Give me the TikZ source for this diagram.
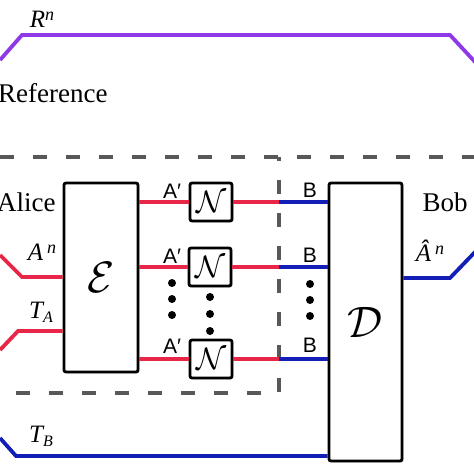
\documentclass[tikz,border=0pt]{standalone}
\usepackage{fix-cm}
\usepackage{fontspec}
\setmainfont{Liberation Serif}
\newfontfamily\sansf{Liberation Sans}
\usetikzlibrary{shadows}
\definecolor{wred}{RGB}{232,38,72}
\definecolor{wblue}{RGB}{18,30,182}
\definecolor{wpurple}{RGB}{142,56,232}
\definecolor{dgray}{RGB}{88,88,88}
\newcommand{\supn}{\raisebox{7pt}{\fontsize{18}{19}\selectfont n}}
\newcommand{\subl}[1]{\raisebox{-4pt}{\fontsize{16}{17}\selectfont #1}}
\begin{document}
\begin{tikzpicture}[x=1pt,y=-1pt,
  redw/.style={draw=wred,line width=3.8pt},
  bluew/.style={draw=wblue,line width=3.8pt},
  purw/.style={draw=wpurple,line width=3.8pt,line join=miter},
  dline/.style={draw=dgray,line width=3.2pt,dash pattern=on 14pt off 19pt},
  bigbox/.style={draw=black,line width=2.8pt,rounded corners=2pt,fill=white,
     drop shadow={shadow xshift=1.5pt,shadow yshift=-1.5pt,opacity=0.25},inner sep=0pt},
  chbox/.style={bigbox,minimum width=42pt,minimum height=38pt},
  lbl/.style={inner sep=0pt,font=\fontsize{27}{30}\selectfont},
  mlbl/.style={inner sep=0pt,font=\fontsize{25}{28}\selectfont\itshape},
  slbl/.style={inner sep=0pt,font=\sansf\fontsize{21}{23}\selectfont},
  dotc/.style={fill=black,circle,inner sep=0pt,minimum size=8pt}
]
\useasboundingbox (0,0) rectangle (474,474);
\clip (0,0) rectangle (474,474);
\fill[white] (0,0) rectangle (474,474);

% reference wire
\coordinate (r0) at (0,60);
\coordinate (r3) at (476,63);
\draw[purw] (r0) -- (22,35) -- (450,35) -- (r3);
\node[mlbl] (rn) at (42,19) {R\supn};
\node[lbl,anchor=west] (ref) at (-2,93) {Reference};

% dashed boxes
\draw[dline] (0,157) -- (474,157);
\draw[dline,dash phase=10pt] (279,157) -- (279,393) -- (0,393);

% boxes
\node[bigbox,minimum width=74pt,minimum height=189pt] (E) at (101,277.5)
  {\fontsize{44}{48}\selectfont$\mathcal{E}$};
\node[bigbox,minimum width=73pt,minimum height=278pt] (D) at (365.5,322)
  {\fontsize{44}{48}\selectfont$\mathcal{D}$};
\node[chbox] (N1) at (211,202) {\fontsize{31}{34}\selectfont$\mathcal{N}$};
\node[chbox] (N2) at (210,267) {\fontsize{31}{34}\selectfont$\mathcal{N}$};
\node[chbox] (N3) at (211,359) {\fontsize{31}{34}\selectfont$\mathcal{N}$};

\node[lbl,anchor=west] (alice) at (-3,202) {Alice};
\node[lbl] (bob) at (445,202) {Bob};

% inputs
\coordinate (ain) at (0,255);
\coordinate (tain) at (0,350);
\coordinate (tbin) at (0,438);
\draw[redw] (ain) -- (22,277) -- (E.west |- 0,277);
\draw[redw] (tain) -- (18,331) -- (E.west |- 0,331);
\draw[bluew] (tbin) -- (16,456) -- (D.west |- 0,456);
\node[mlbl] (an) at (42,252) {A\,\supn};
\node[mlbl] (ta) at (41,312) {T\subl{A}};
\node[mlbl] (tb) at (41,436) {T\subl{B}};

% channel wires
\foreach \i in {1,2,3}{
  \draw[redw] (E.east |- N\i) -- (N\i.west);
  \draw[redw] (N\i.east) -- (279,0 |- N\i);
  \draw[bluew] (279,0 |- N\i) -- (D.west |- N\i);
}
\node[slbl] (ap1) at (172,191) {A′};
\node[slbl] (ap2) at (172,256) {A′};
\node[slbl] (ap3) at (172,346) {A′};
\node[slbl] (b1) at (310,190) {B};
\node[slbl] (b2) at (310,255) {B};
\node[slbl] (b3) at (310,345) {B};

% dots
\foreach \y [count=\k] in {283,299,315}{
  \node[dotc] (da\k) at (172,\y) {};
  \node[dotc] (db\k) at (310,\y+1) {};
}
\foreach \y [count=\k] in {297,314,331}{
  \node[dotc] (dn\k) at (210,\y) {};
}

% output
\coordinate (aout) at (476,251);
\draw[bluew] (D.east |- 0,278) -- (450,278) -- (aout);
\node[mlbl] (ahat) at (430,251) {Â\,\supn};
\end{tikzpicture}
\end{document}
